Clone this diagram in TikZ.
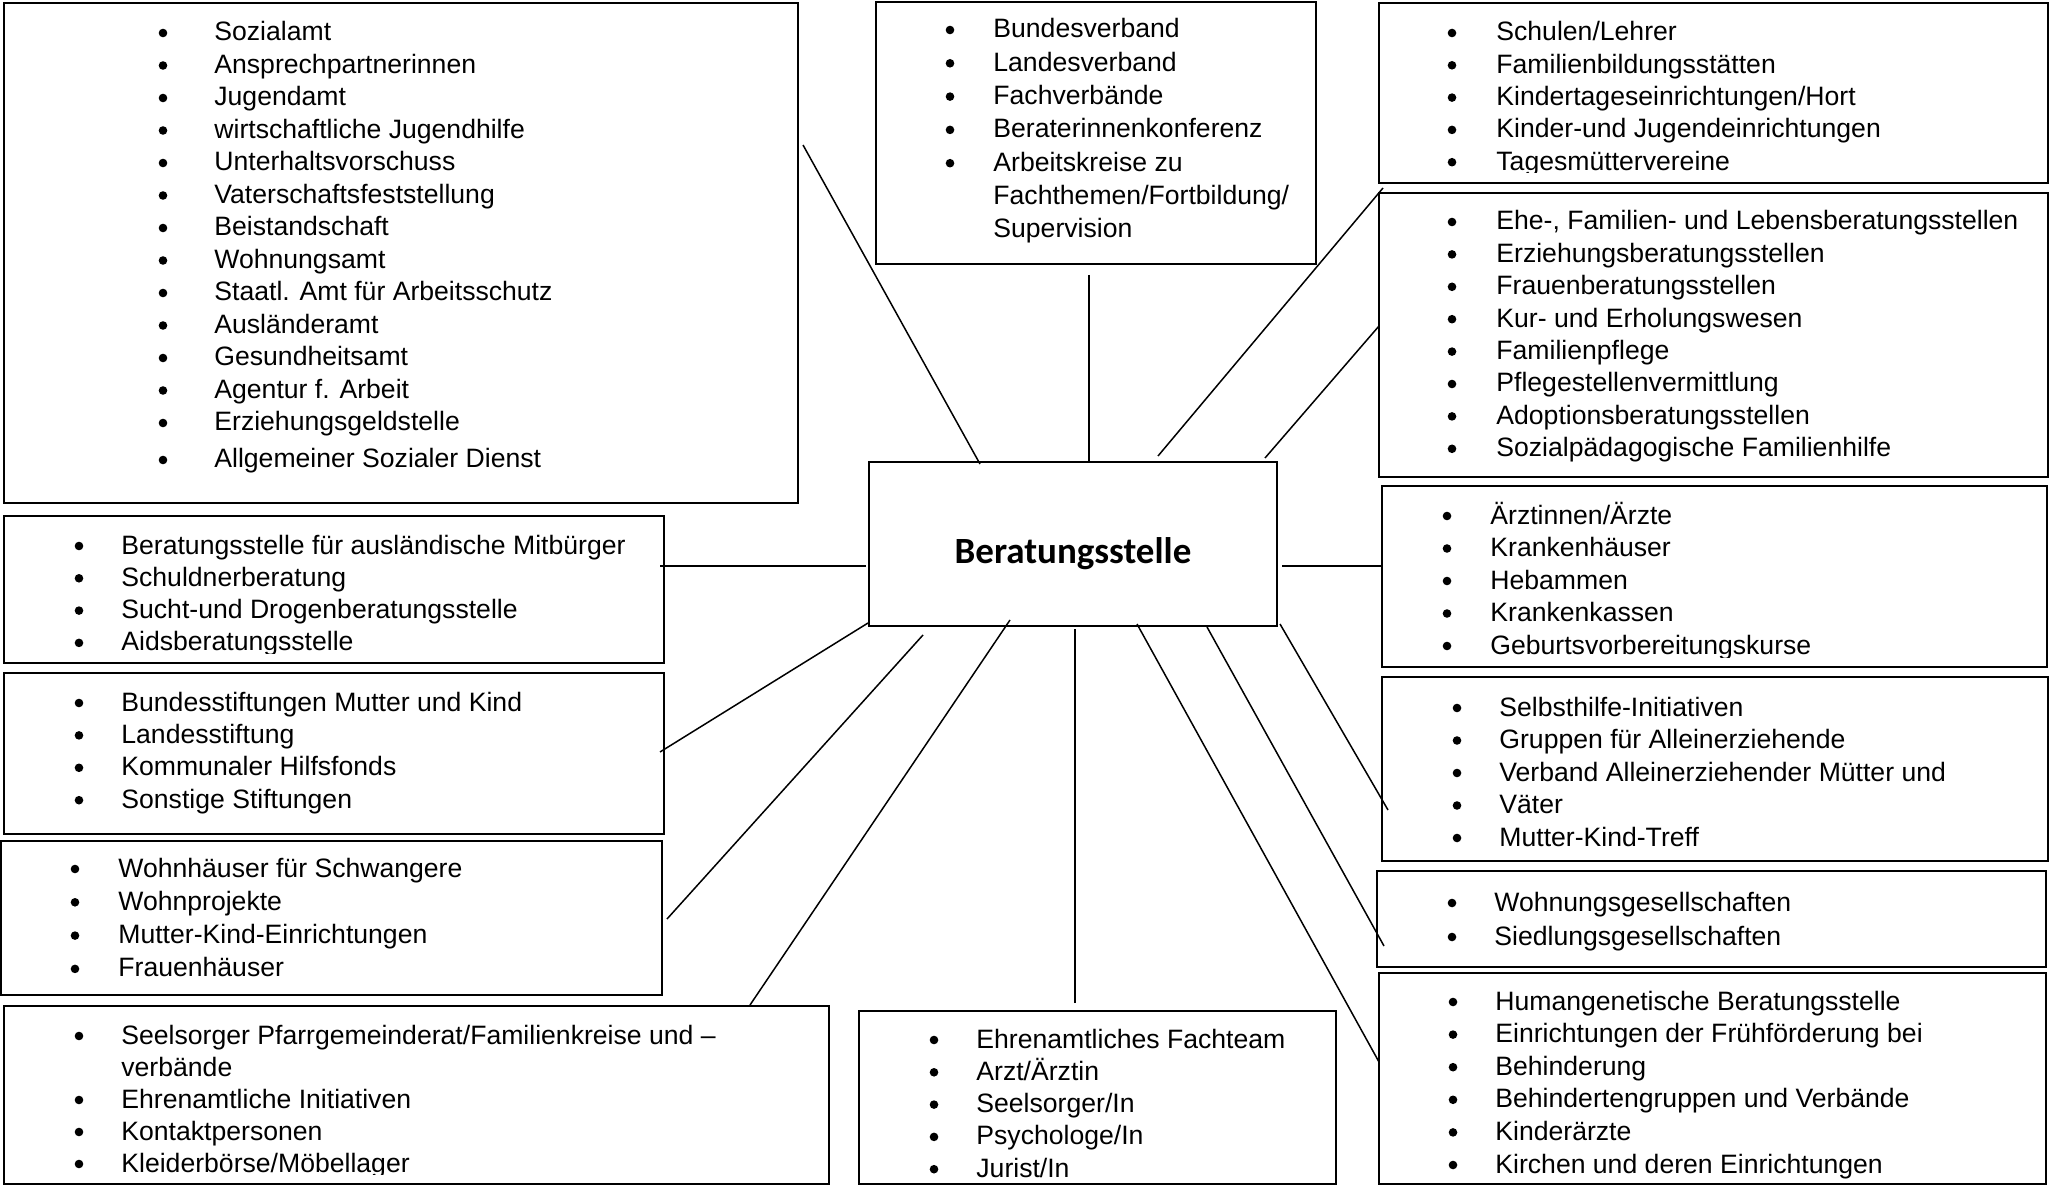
\documentclass[tikz,border=0pt]{standalone}
\usepackage{fontspec}
\setmainfont{Liberation Sans}
\newfontfamily\hubfont{Carlito}
\newif\ifbul
\newcommand\nob{\global\bulfalse}
\tikzset{
  box/.style={draw, rectangle, line width=0.9pt, inner sep=0pt, outer sep=0pt},
  item/.style={anchor=base west, inner sep=0pt, font=\fontsize{13.3}{16}\selectfont},
  link/.style={line width=0.75pt},
  hubtext/.style={anchor=base, inner sep=0pt, font=\hubfont\bfseries\fontsize{18.5}{22}\selectfont}
}
% box: name, x1, y1, x2, y2 (pixel units)
\newcommand\mkbox[5]{\node[box, anchor=north west, minimum width={(#4-#2)*0.5pt}, minimum height={(#5-#3)*0.5pt}] (#1) at (#2,#3) {};}
% list: box name, bullet x, text x, first baseline, spacing, items, bottom inset (pt)
\newcommand\blist[7]{%
  \begin{scope}
    \clip ([yshift=#7]#1.south west) rectangle (#1.north east);
    \foreach \t [count=\i] in {#6} {
      \global\bultrue
      \node[item] (#1t\i) at (#3, {#4+(\i-1)*#5}) {\t};
      \ifbul \fill (#2, {#4+(\i-1)*#5-8}) circle (2.15pt); \fi
    }
  \end{scope}}
\begin{document}
\begin{tikzpicture}[x=0.5pt, y=-0.5pt]
\useasboundingbox (0,0) rectangle (2051,1187);
\fill[white] (0,0) rectangle (2051,1187);

% boxes
\mkbox{A}{4}{3}{798}{503}
\mkbox{B}{876}{2}{1316}{264}
\mkbox{C}{1379}{3}{2048}{183}
\mkbox{D}{1379}{193}{2048}{477}
\mkbox{hub}{869}{462}{1277}{626}
\mkbox{E}{4}{516}{664}{663}
\mkbox{F}{4}{673}{664}{834}
\mkbox{G}{1}{841}{662}{995}
\mkbox{H}{4}{1006}{829}{1184}
\mkbox{I}{859}{1011}{1336}{1184}
\mkbox{J}{1382}{486}{2047}{667}
\mkbox{K}{1382}{677}{2048}{861}
\mkbox{L}{1377}{871}{2046}{967}
\mkbox{M}{1379}{973}{2046}{1184}

\node[hubtext] (hubt) at (1073,563) {Beratungsstelle};

% lists
\blist{A}{163}{214}{41}{32.5}{Sozialamt, Ansprechpartnerinnen, Jugendamt, wirtschaftliche Jugendhilfe, Unterhaltsvorschuss, Vaterschaftsfeststellung, Beistandschaft, Wohnungsamt, Staatl. Amt für Arbeitsschutz, Ausländeramt, Gesundheitsamt, Agentur f. Arbeit, Erziehungsgeldstelle}{5pt}
\node[item] (At14) at (214,468) {Allgemeiner Sozialer Dienst};
\fill (163,460) circle (2.15pt);
\blist{B}{950}{993}{38}{33.3}{Bundesverband, Landesverband, Fachverbände, Beraterinnenkonferenz, Arbeitskreise zu, \nob Fachthemen/Fortbildung/, \nob Supervision}{5pt}
\blist{C}{1452}{1496}{41}{32.3}{Schulen/Lehrer, Familienbildungsstätten, Kindertageseinrichtungen/Hort, Kinder-und Jugendeinrichtungen, Tagesmüttervereine}{5pt}
\blist{D}{1452}{1496}{230}{32.4}{{Ehe-, Familien- und Lebensberatungsstellen}, Erziehungsberatungsstellen, Frauenberatungsstellen, Kur- und Erholungswesen, Familienpflege, Pflegestellenvermittlung, Adoptionsberatungsstellen, Sozialpädagogische Familienhilfe}{5pt}
\blist{E}{79}{121}{554}{32.3}{Beratungsstelle für ausländische Mitbürger, Schuldnerberatung, Sucht-und Drogenberatungsstelle, Aidsberatungsstelle}{5pt}
\blist{F}{79}{121}{711}{32.4}{Bundesstiftungen Mutter und Kind, Landesstiftung, Kommunaler Hilfsfonds, Sonstige Stiftungen}{5pt}
\blist{G}{75}{118}{877}{33.3}{Wohnhäuser für Schwangere, Wohnprojekte, Mutter-Kind-Einrichtungen, Frauenhäuser}{5pt}
\blist{H}{79}{121}{1044}{32}{Seelsorger Pfarrgemeinderat/Familienkreise und –, \nob verbände, Ehrenamtliche Initiativen, Kontaktpersonen, Kleiderbörse/Möbellager}{5pt}
\blist{I}{934}{976}{1048}{32.3}{Ehrenamtliches Fachteam, Arzt/Ärztin, Seelsorger/In, Psychologe/In, Jurist/In}{2pt}
\blist{J}{1447}{1490}{524}{32.5}{Ärztinnen/Ärzte, Krankenhäuser, Hebammen, Krankenkassen, Geburtsvorbereitungskurse}{5pt}
\blist{K}{1457}{1499}{716}{32.5}{Selbsthilfe-Initiativen, Gruppen für Alleinerziehende, Verband Alleinerziehender Mütter und, Väter, Mutter-Kind-Treff}{5pt}
\blist{L}{1452}{1494}{911}{34}{Wohnungsgesellschaften, Siedlungsgesellschaften}{5pt}
\blist{M}{1453}{1495}{1010}{32.6}{Humangenetische Beratungsstelle, Einrichtungen der Frühförderung bei, Behinderung, Behindertengruppen und Verbände, Kinderärzte, Kirchen und deren Einrichtungen}{1pt}

% connectors
\draw[link] ([shift={(5,-108)}]A.east) -- ([shift={(-93,2)}]hub.north);
\draw[link] ([shift={(-7,11)}]B.south) -- ([shift={(16,0)}]hub.north);
\draw[link] ([shift={(4,5)}]C.south west) -- ([shift={(85,-6)}]hub.north);
\draw[link] ([shift={(0,-9)}]D.west) -- ([shift={(-12,-4)}]hub.north east);
\draw[link] ([shift={(-4,-23.5)}]E.east) -- ([shift={(-3,22)}]hub.west);
\draw[link] ([shift={(5,22)}]hub.east) -- ([shift={(1,-10.5)}]J.west);
\draw[link] ([shift={(-4,-1.5)}]F.east) -- ([shift={(-1,-3)}]hub.south west);
\draw[link] ([shift={(5,1)}]G.east) -- ([shift={(54,9)}]hub.south west);
\draw[link] ([shift={(-79,-1)}]H.north east) -- ([shift={(-63,-6)}]hub.south);
\draw[link] ([shift={(-22.5,-8)}]I.north) -- ([shift={(2,3)}]hub.south);
\draw[link] ([shift={(0,-16.5)}]M.west) -- ([shift={(64,-2)}]hub.south);
\draw[link] ([shift={(7,27)}]L.west) -- ([shift={(-70,1)}]hub.south east);
\draw[link] ([shift={(6,41)}]K.west) -- ([shift={(3,-2)}]hub.south east);
\end{tikzpicture}
\end{document}
